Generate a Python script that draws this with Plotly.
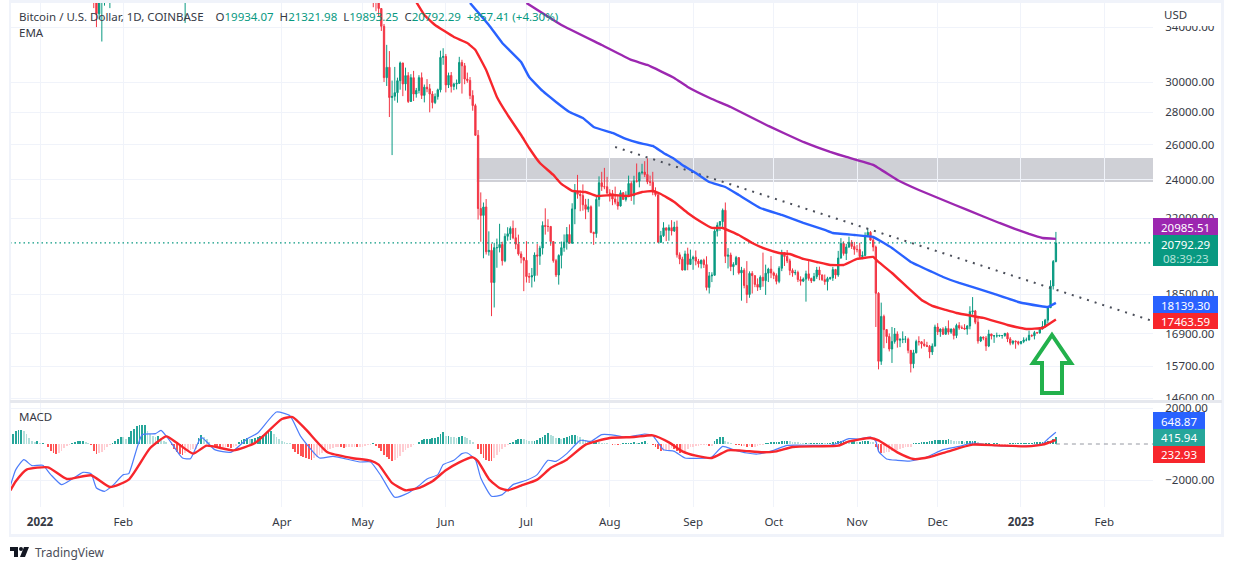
import pandas as pd
import plotly.graph_objects as go
from plotly.subplots import make_subplots

WIDTH = 1233
HEIGHT = 570

# Candles that dip into view before the big drop
early_dates = ["2022-01-21", "2022-01-22", "2022-01-23", "2022-01-24", "2022-01-25", "2022-01-26", "2022-01-27", "2022-02-24"]
early_open = [40700, 36450, 35050, 36270, 36650, 36970, 36820, 37250]
early_high = [41100, 36800, 36500, 37500, 37500, 38900, 37200, 39700]
early_low = [35500, 34000, 34600, 32900, 35700, 36200, 35500, 34320]
early_close = [36450, 35050, 36270, 36650, 36970, 36820, 37200, 38340]

# Daily candles from 2022-05-01, open is the previous close
first_open = 37630
close_may = [38470, 38530, 37750, 39695, 36550, 36010, 35470, 34060, 30300, 31020, 28960, 29040, 29280, 30090, 31330, 29870, 30440, 28700, 30300, 29190, 29430, 30300, 29100, 29650, 29540, 29190, 28630, 29020, 29470, 31730, 31800]
high_may = [38650, 39170, 38650, 40000, 39840, 36650, 36130, 35500, 34240, 32650, 32190, 30100, 31050, 30300, 31430, 31340, 31000, 30680, 30540, 30770, 29600, 30470, 30660, 29830, 30200, 29860, 29380, 29230, 29550, 32220, 32400]
low_may = [37390, 38050, 37520, 37680, 35570, 35250, 34790, 33700, 30000, 29730, 27700, 25400, 28750, 28620, 29480, 29050, 29420, 28600, 28680, 28730, 28950, 29230, 28860, 28640, 29310, 28000, 28250, 28530, 28820, 29300, 31200]
close_jun = [29800, 30450, 29700, 29860, 29910, 31370, 31130, 30200, 30110, 29090, 28430, 26570, 22490, 22140, 22570, 20380, 20445, 19000, 20570, 20570, 20720, 19965, 21110, 21230, 21490, 21040, 20735, 20280, 20105, 19985]
high_jun = [31980, 30650, 30690, 29950, 30170, 31770, 31560, 31330, 30650, 30340, 29440, 28550, 26890, 23330, 22800, 22980, 21350, 20760, 20800, 21000, 21720, 20850, 21250, 21550, 21590, 21880, 21520, 21190, 20400, 20130]
low_jun = [29300, 29590, 29290, 29450, 29500, 29880, 29220, 29850, 29950, 28850, 28100, 26560, 21930, 20850, 20080, 20250, 20200, 17600, 17950, 19650, 20350, 19750, 19900, 20900, 20930, 20970, 20500, 20200, 19850, 18630]
close_jul = [19260, 19240, 19300, 20230, 20180, 20550, 21640, 21590, 21590, 20860, 19970, 19330, 20210, 20570, 20830, 21195, 20780, 22470, 23390, 23230, 23160, 22680, 22450, 22580, 21300, 21240, 22960, 23850, 23640, 23630, 23300]
high_jul = [20880, 19420, 19640, 20350, 20740, 20660, 21840, 22500, 21950, 21600, 20860, 20050, 20260, 20860, 21200, 21560, 21690, 22760, 23780, 24280, 23440, 23760, 22990, 22990, 22650, 21330, 23110, 24200, 24450, 24670, 24170]
low_jul = [19000, 18980, 18790, 19040, 19300, 19780, 20250, 21190, 21330, 20660, 19880, 19240, 18910, 19620, 20380, 20480, 20760, 20760, 21700, 23000, 22350, 22380, 21950, 22300, 21260, 20700, 21040, 22590, 23410, 23500, 23230]
close_aug = [23270, 22980, 22820, 22620, 23310, 22960, 23175, 23810, 23150, 23950, 23930, 24400, 24440, 24300, 23900, 23880, 23340, 23210, 20830, 21140, 21520, 21400, 21530, 21370, 21560, 20240, 20040, 19550, 20280, 19800, 20050]
high_aug = [23500, 23460, 23640, 23220, 23450, 23350, 23390, 24240, 23930, 24230, 24920, 24450, 24900, 25050, 25210, 24240, 24450, 23600, 23210, 21370, 21800, 21520, 21680, 21900, 21820, 21880, 20350, 20150, 20430, 20570, 20480]
low_aug = [22850, 22660, 22700, 22430, 22590, 22930, 22850, 23150, 22880, 22690, 23860, 23600, 24300, 24160, 23770, 23680, 23180, 23110, 20790, 20790, 21080, 20880, 20900, 21150, 21320, 20110, 19810, 19530, 19540, 19540, 19800]
close_sep = [20130, 19950, 19830, 19990, 19790, 18790, 19290, 19320, 21360, 21650, 21830, 22400, 20170, 20230, 19700, 19800, 20110, 19420, 19540, 18875, 18490, 19400, 19300, 18920, 18800, 19230, 19080, 19410, 19590, 19420]
high_sep = [20200, 20440, 20050, 20020, 20060, 20170, 19460, 19450, 21450, 21790, 21850, 22490, 22800, 20550, 20340, 19900, 20190, 20110, 19690, 19630, 19950, 19490, 19500, 19310, 19180, 19310, 20340, 19790, 19650, 20180]
low_sep = [19560, 19760, 19660, 19620, 19640, 18660, 18530, 19020, 19300, 21100, 21370, 21560, 19860, 19620, 19500, 19320, 19760, 19350, 18230, 18750, 18130, 18350, 18530, 18800, 18640, 18680, 18820, 18470, 19020, 19190]
close_oct = [19310, 19050, 19630, 20340, 20160, 19960, 19530, 19420, 19440, 19130, 19060, 19150, 19380, 19180, 19070, 19260, 19550, 19330, 19125, 19040, 19170, 19205, 19570, 19330, 20090, 20770, 20300, 20600, 20820, 20630, 20490]
high_oct = [19480, 19400, 19720, 20470, 20370, 20460, 20060, 19620, 19560, 19520, 19270, 19220, 19520, 19950, 19210, 19420, 19690, 19700, 19350, 19350, 19250, 19250, 19690, 19600, 20420, 21020, 20870, 20750, 21090, 20930, 20840]
low_oct = [19150, 18920, 18970, 19500, 19730, 19860, 19320, 19250, 19320, 19020, 18870, 19020, 18190, 19080, 18980, 19060, 19160, 19100, 19070, 18900, 18660, 19120, 19070, 19160, 19250, 20060, 20200, 20000, 20560, 20510, 20240]
close_nov = [20480, 20160, 20210, 21150, 21300, 20925, 20600, 18540, 15880, 17590, 17070, 16800, 16330, 16610, 16900, 16660, 16690, 16700, 16700, 16280, 15790, 16190, 16610, 16600, 16520, 16460, 16430, 16220, 16440, 17170]
high_nov = [20700, 20800, 20400, 21300, 21480, 21360, 21060, 20670, 18590, 18150, 17660, 17070, 16920, 17170, 17130, 17000, 16740, 17000, 16820, 16760, 16290, 16300, 16680, 16810, 16620, 16700, 16600, 16480, 16540, 17260]
low_nov = [20350, 20050, 20040, 20170, 21080, 20890, 20400, 17170, 15590, 15750, 16360, 16550, 16240, 15820, 16530, 16380, 16400, 16550, 16560, 16170, 15480, 15630, 16170, 16460, 16350, 16410, 16400, 15990, 16110, 16420]
close_dec = [16980, 17090, 16890, 17110, 16970, 17090, 16840, 17230, 17130, 17130, 17090, 17210, 17780, 17810, 17360, 16630, 16780, 16740, 16440, 16900, 16820, 16830, 16830, 16840, 16840, 16920, 16710, 16550, 16630, 16600, 16540]
high_dec = [17320, 17110, 17160, 17200, 17430, 17110, 17140, 17300, 17360, 17230, 17280, 17240, 18000, 18380, 17850, 17530, 16800, 16800, 16820, 17060, 16900, 16860, 16950, 16870, 16860, 16940, 16960, 16780, 16650, 16650, 16640]
low_dec = [16860, 16790, 16860, 16880, 16870, 16900, 16690, 16740, 17060, 17090, 17070, 16870, 17080, 17660, 17280, 16530, 16590, 16660, 16260, 16400, 16690, 16560, 16760, 16790, 16720, 16790, 16590, 16470, 16490, 16340, 16470]
close_jan = [16610, 16670, 16670, 16850, 16830, 16950, 16940, 17090, 17190, 17440, 17940, 18850, 19934.07, 20792.29]
high_jan = [16630, 16770, 16760, 17030, 16880, 17020, 16980, 17170, 17400, 17490, 18000, 19100, 20000, 21321.98]
low_jan = [16500, 16550, 16620, 16650, 16780, 16690, 16910, 16910, 17080, 17150, 17310, 18000, 18700, 19893.25]

# EMA 50 (red)
ema50_dates = ["2022-05-21", "2022-05-24", "2022-05-28", "2022-06-04", "2022-06-09", "2022-06-12", "2022-06-16", "2022-06-20", "2022-06-24", "2022-06-29", "2022-07-02", "2022-07-06", "2022-07-11", "2022-07-14", "2022-07-18", "2022-07-23", "2022-07-27", "2022-08-02", "2022-08-08", "2022-08-13", "2022-08-17", "2022-08-20", "2022-08-25", "2022-08-30", "2022-09-04", "2022-09-08", "2022-09-12", "2022-09-18", "2022-09-23", "2022-09-28", "2022-10-03", "2022-10-07", "2022-10-12", "2022-10-17", "2022-10-22", "2022-10-27", "2022-11-01", "2022-11-07", "2022-11-09", "2022-11-14", "2022-11-20", "2022-11-25", "2022-11-29", "2022-12-04", "2022-12-08", "2022-12-14", "2022-12-18", "2022-12-27", "2023-01-03", "2023-01-09", "2023-01-12", "2023-01-14"]
ema50_values = [35998, 34951, 34161, 33241, 32791, 32271, 30834, 28997, 27830, 26590, 25815, 24950, 24276, 23783, 23405, 23353, 23142, 23194, 23142, 23353, 23405, 23246, 22826, 22262, 21808, 21515, 21515, 21173, 20790, 20509, 20322, 20276, 20048, 19911, 19775, 19775, 20048, 20139, 19911, 19418, 18766, 18260, 18012, 17849, 17727, 17606, 17527, 17249, 17093, 17131, 17328, 17463.59]

# EMA 100 (blue)
ema100_dates = ["2022-06-10", "2022-06-17", "2022-06-22", "2022-06-29", "2022-07-02", "2022-07-07", "2022-07-12", "2022-07-17", "2022-07-22", "2022-07-26", "2022-08-02", "2022-08-07", "2022-08-12", "2022-08-17", "2022-08-21", "2022-08-25", "2022-08-28", "2022-09-02", "2022-09-07", "2022-09-13", "2022-09-18", "2022-09-26", "2022-10-04", "2022-10-12", "2022-10-20", "2022-10-23", "2022-10-31", "2022-11-07", "2022-11-14", "2022-11-21", "2022-11-29", "2022-12-03", "2022-12-09", "2022-12-15", "2022-12-22", "2022-12-31", "2023-01-08", "2023-01-11", "2023-01-14"]
ema100_values = [35918, 34161, 32791, 31401, 30346, 29393, 28668, 28020, 27640, 27080, 26712, 26350, 26110, 25932, 25522, 25177, 24835, 24385, 23891, 23620, 23194, 22516, 22162, 21760, 21418, 21270, 21173, 21076, 20556, 19911, 19462, 19241, 18982, 18766, 18511, 18177, 18012, 17971, 18139.30]

# EMA 200 (purple)
ema200_dates = ["2022-07-01", "2022-07-14", "2022-07-29", "2022-08-09", "2022-08-15", "2022-08-25", "2022-08-30", "2022-09-08", "2022-09-15", "2022-09-29", "2022-10-12", "2022-10-22", "2022-10-28", "2022-11-07", "2022-11-16", "2022-11-24", "2022-12-03", "2022-12-12", "2022-12-24", "2023-01-04", "2023-01-09", "2023-01-14"]
ema200_values = [35918, 34161, 32640, 31544, 31188, 30276, 29662, 28863, 28342, 27142, 26170, 25581, 25291, 24835, 24000, 23459, 22930, 22415, 21760, 21222, 21028, 20985.51]

# MACD line
macd_dates = ["2021-12-21", "2021-12-23", "2021-12-26", "2021-12-29", "2022-01-02", "2022-01-05", "2022-01-09", "2022-01-13", "2022-01-17", "2022-01-20", "2022-01-22", "2022-01-25", "2022-01-28", "2022-02-01", "2022-02-03", "2022-02-08", "2022-02-13", "2022-02-15", "2022-02-18", "2022-02-23", "2022-02-26", "2022-03-02", "2022-03-07", "2022-03-13", "2022-03-19", "2022-03-23", "2022-03-30", "2022-04-04", "2022-04-08", "2022-04-15", "2022-04-20", "2022-04-30", "2022-05-04", "2022-05-08", "2022-05-13", "2022-05-18", "2022-05-22", "2022-05-25", "2022-05-29", "2022-05-31", "2022-06-04", "2022-06-07", "2022-06-09", "2022-06-12", "2022-06-14", "2022-06-18", "2022-06-22", "2022-06-26", "2022-07-01", "2022-07-05", "2022-07-09", "2022-07-12", "2022-07-16", "2022-07-21", "2022-07-25", "2022-07-29", "2022-08-03", "2022-08-07", "2022-08-14", "2022-08-17", "2022-08-21", "2022-08-25", "2022-08-29", "2022-09-06", "2022-09-08", "2022-09-12", "2022-09-16", "2022-09-21", "2022-09-25", "2022-10-01", "2022-10-06", "2022-10-15", "2022-10-22", "2022-10-25", "2022-10-29", "2022-11-02", "2022-11-06", "2022-11-08", "2022-11-09", "2022-11-12", "2022-11-16", "2022-11-21", "2022-11-27", "2022-12-03", "2022-12-09", "2022-12-14", "2022-12-19", "2022-12-31", "2023-01-09", "2023-01-11", "2023-01-14"]
macd_values = [-2312, -1424, -870, -1202, -1184, -1702, -2257, -1942, -1572, -1646, -2442, -2627, -2312, -1702, -1646, 518, 574, 758, 240, -777, -814, 370, -314, -462, 278, 610, 1776, 1572, 425, -777, -684, -999, -999, -1794, -2960, -2720, -2312, -1942, -1702, -1147, -906, -536, -500, -870, -1887, -2905, -2812, -2257, -2017, -1702, -906, -962, -536, 204, 148, 518, 481, 370, 555, 462, -314, -407, -777, -777, -722, -130, -314, -500, -555, -352, -74, -74, -74, 55, 296, 278, 388, 148, -407, -832, -906, -944, -722, -314, -130, 55, -55, -130, 0, 278, 648.87]

# Signal line
signal_dates = ["2021-12-21", "2021-12-23", "2021-12-27", "2022-01-04", "2022-01-11", "2022-01-20", "2022-01-27", "2022-02-03", "2022-02-11", "2022-02-17", "2022-02-21", "2022-02-27", "2022-03-04", "2022-03-14", "2022-03-22", "2022-04-01", "2022-04-05", "2022-04-10", "2022-04-18", "2022-04-27", "2022-05-04", "2022-05-07", "2022-05-12", "2022-05-17", "2022-05-22", "2022-05-27", "2022-06-01", "2022-06-06", "2022-06-11", "2022-06-13", "2022-06-17", "2022-06-21", "2022-06-24", "2022-06-29", "2022-07-05", "2022-07-10", "2022-07-16", "2022-07-23", "2022-08-01", "2022-08-10", "2022-08-17", "2022-08-23", "2022-08-28", "2022-09-02", "2022-09-08", "2022-09-14", "2022-09-19", "2022-09-27", "2022-10-02", "2022-10-08", "2022-10-18", "2022-10-25", "2022-10-29", "2022-11-06", "2022-11-09", "2022-11-16", "2022-11-22", "2022-11-28", "2022-12-05", "2022-12-14", "2022-12-23", "2023-01-03", "2023-01-09", "2023-01-14"]
signal_values = [-2572, -2072, -1424, -1295, -1942, -1739, -2386, -1980, -222, 425, 55, -536, -92, -352, 55, 1388, 1498, 796, -462, -777, -925, -1147, -2164, -2572, -2442, -2072, -1462, -1017, -740, -962, -1942, -2442, -2572, -2312, -1980, -1332, -870, -37, 333, 388, 481, 92, -407, -648, -777, -352, -370, -462, -407, -166, -130, -92, 148, 333, 204, -462, -832, -722, -407, -37, -74, -130, -37, 232.93]

# MACD histogram, one bar per day from 2021-12-21
hist_dec21 = [462, 555, 740, 777, 777, 703, 555, 333, 148, 111, 148]
hist_jan22 = [55, 55, 0, -185, -407, -518, -555, -518, -407, -222, -92, -55, 37, 111, 185, 185, 185, 92, 37, -55, -407, -555, -518, -462, -333, -148, -55, 55, 185, 278, 407]
hist_feb22 = [370, 278, 407, 703, 832, 1018, 1073, 1073, 1073, 740, 555, 462, 370, 462, 333, 185, 92, 0, -55, -278, -462, -555, -592, -518, -407, -333, -278, -278]
hist_mar22 = [333, 518, 407, 278, 92, 0, -92, -185, -222, -148, -148, -185, -222, -185, -111, 92, 222, 278, 333, 278, 278, 333, 407, 462, 518, 555, 648, 703, 555, 407, 278]
hist_apr22 = [185, 111, 55, 37, -278, -462, -555, -648, -740, -777, -851, -888, -777, -703, -592, -518, -407, -333, -259, -222, -185, -148, -185, -222, -185, -185, -148, -148, -185, -148]
hist_may22 = [-148, -92, -55, -37, 37, -92, -222, -407, -592, -740, -832, -925, -888, -777, -648, -462, -333, -222, -148, -55, 0, 92, 222, 278, 278, 278, 333, 333, 407, 555, 648]
hist_jun22 = [462, 462, 407, 370, 333, 407, 462, 407, 333, 222, 92, 0, -278, -555, -777, -888, -925, -962, -777, -592, -444, -278, -148, -55, 18, 92, 222, 278, 278, 259]
hist_jul22 = [222, 185, 148, 148, 222, 333, 407, 518, 592, 518, 462, 333, 333, 278, 333, 407, 462, 518, 518, 462, 407, 278, 222, 148, 92, 92, 148, 92, 55, 37, 18]
hist_aug22 = [0, -37, -37, -55, -37, 37, 55, 55, 55, 92, 55, 55, 92, 148, 55, 0, -55, -148, -278, -407, -407, -333, -333, -222, -278, -407, -518, -462, -407, -278, -185]
hist_sep22 = [-148, -92, -92, -55, -55, -55, -92, -92, 148, 278, 370, 407, 185, 92, 55, 0, -37, -55, -92, -92, -148, -92, -148, -148, -92, -55, -37, 37, 55, 92]
hist_oct22 = [92, 92, 111, 148, 148, 185, 148, 111, 92, 74, 55, 37, 37, 18, 18, 37, 37, 37, 37, 18, 37, 55, 74, 111, 148, 185, 185, 166, 148, 148, 148]
hist_nov22 = [130, 130, 148, 148, 148, 111, 92, -148, -407, -518, -518, -462, -462, -407, -370, -333, -278, -222, -185, -148, -148, 18, 18, 37, 74, 92, 111, 148, 185, 222]
hist_dec22 = [222, 222, 222, 240, 259, 222, 185, 166, 148, 148, 130, 148, 166, 185, 185, 92, 37, 18, 18, 18, 0, 18, 18, -18, -18, -18, -18, 18, 37, 37, 37]
hist_jan23 = [37, 37, 55, 55, 55, 74, 92, 111, 111, 130, 148, 185, 259, 415.94]

# Overlays
zone_start, zone_end = "2022-06-12 12:00", "2023-02-19 03:00"
zone_low, zone_high = 23890, 25233
trend_dates = ["2022-08-03", "2023-02-19 03:00"]
trend_values = [25873, 17400]
last_price = 20792.29
x_range = ["2021-12-20 20:00", "2023-02-19 03:00"]

# Axis labels
month_ticks = ["2022-01-01", "2022-02-01", "2022-04-01", "2022-05-01", "2022-06-01", "2022-07-01", "2022-08-01", "2022-09-01", "2022-10-01", "2022-11-01", "2022-12-01", "2023-01-01", "2023-02-01"]
month_labels = ["<b>2022</b>", "Feb", "Apr", "May", "Jun", "Jul", "Aug", "Sep", "Oct", "Nov", "Dec", "<b>2023</b>", "Feb"]
price_ticks = [34000, 30000, 28000, 26000, 24000, 22000, 18500, 16900, 15700, 14600]
price_labels = ["34000.00", "30000.00", "28000.00", "26000.00", "24000.00", "22000.00", "18500.00", "16900.00", "15700.00", "14600.00"]
macd_ticks = [2000, -2000]
macd_labels = ["2000.00", "\u22122000.00"]

FONT = "Noto Sans"
TEXT_SIZE = 11.5
TEXT = "#363a45"
GRID = "#f0f3fa"
GREEN = "#089981"
RED = "#f23645"
EMA_RED = "#f7262c"
BLUE = "#2962ff"
PURPLE = "#9c27b0"


def px_x(x):
    return x / WIDTH


def px_y(y):
    return 1 - y / HEIGHT


closes = close_may + close_jun + close_jul + close_aug + close_sep + close_oct + close_nov + close_dec + close_jan
highs = high_may + high_jun + high_jul + high_aug + high_sep + high_oct + high_nov + high_dec + high_jan
lows = low_may + low_jun + low_jul + low_aug + low_sep + low_oct + low_nov + low_dec + low_jan
opens = [first_open] + closes[:-1]
candle_dates = pd.date_range("2022-05-01", periods=len(closes), freq="D")

hist = hist_dec21 + hist_jan22 + hist_feb22 + hist_mar22 + hist_apr22 + hist_may22 + hist_jun22 + hist_jul22 + hist_aug22 + hist_sep22 + hist_oct22 + hist_nov22 + hist_dec22 + hist_jan23
hist_dates = pd.date_range("2021-12-21", periods=len(hist), freq="D")
hist_colors = []
for i, v in enumerate(hist):
    rising = i == 0 or v >= hist[i - 1]
    if v >= 0:
        hist_colors.append("#26a69a" if rising else "#b2dfdb")
    else:
        hist_colors.append("#ffcdd2" if rising else "#ff5252")

fig = make_subplots(rows=2, cols=1, shared_xaxes=True)

fig.add_trace(
    go.Candlestick(
        x=list(pd.to_datetime(early_dates)) + list(candle_dates),
        open=early_open + opens,
        high=early_high + highs,
        low=early_low + lows,
        close=early_close + closes,
        increasing=dict(line=dict(color=GREEN, width=1), fillcolor=GREEN),
        decreasing=dict(line=dict(color=RED, width=1), fillcolor=RED),
        whiskerwidth=0,
    ),
    row=1,
    col=1,
)

# Last price and trend line
fig.add_trace(
    go.Scatter(x=x_range, y=[last_price, last_price], mode="lines", line=dict(color=GREEN, width=1.2, dash="1.5px,3px")),
    row=1,
    col=1,
)
fig.add_trace(
    go.Scatter(x=trend_dates, y=trend_values, mode="lines", line=dict(color="#4a4e59", width=2, dash="2px,6px")),
    row=1,
    col=1,
)

for dates, values, color in [
    (ema200_dates, ema200_values, PURPLE),
    (ema100_dates, ema100_values, BLUE),
    (ema50_dates, ema50_values, EMA_RED),
]:
    fig.add_trace(
        go.Scatter(x=dates, y=values, mode="lines", line=dict(color=color, width=2.4, shape="spline", smoothing=0.25)),
        row=1,
        col=1,
    )

fig.add_trace(
    go.Bar(x=hist_dates, y=hist, marker=dict(color=hist_colors, line=dict(width=0)), width=26000000),
    row=2,
    col=1,
)
fig.add_trace(
    go.Scatter(x=macd_dates, y=macd_values, mode="lines", line=dict(color="#4d7dfa", width=1.2, shape="spline", smoothing=0.5)),
    row=2,
    col=1,
)
fig.add_trace(
    go.Scatter(x=signal_dates, y=signal_values, mode="lines", line=dict(color=EMA_RED, width=2.4, shape="spline", smoothing=0.5)),
    row=2,
    col=1,
)
fig.add_trace(
    go.Scatter(x=["2023-01-14", x_range[1]], y=[0, 0], mode="lines", line=dict(color="#9598a1", width=1, dash="4px,4px")),
    row=2,
    col=1,
)

fig.update_layout(
    width=WIDTH,
    height=HEIGHT,
    margin=dict(l=0, r=0, t=0, b=0),
    paper_bgcolor="white",
    plot_bgcolor="white",
    showlegend=False,
    hovermode=False,
    bargap=0,
    font=dict(family=FONT, size=TEXT_SIZE, color=TEXT),
)
# automargin off, labels near the pane edges would otherwise squeeze the plot area
fig.update_xaxes(
    automargin=False,
    range=x_range,
    domain=[px_x(10), px_x(1153)],
    tickmode="array",
    tickvals=month_ticks,
    ticktext=month_labels,
    showgrid=True,
    gridcolor=GRID,
    gridwidth=1,
    zeroline=False,
    showline=False,
    rangeslider_visible=False,
)
fig.update_xaxes(showticklabels=False, ticks="", row=1, col=1)
fig.update_xaxes(showticklabels=True, ticks="outside", ticklen=4, tickcolor="rgba(0,0,0,0)", tickfont=dict(size=TEXT_SIZE, color=TEXT), row=2, col=1)
fig.update_yaxes(
    automargin=False,
    type="log",
    range=[4.16155, 4.55529],
    autorange=False,
    domain=[px_y(401), px_y(3)],
    side="right",
    tickmode="array",
    tickvals=price_ticks,
    ticktext=price_labels,
    ticks="outside",
    ticklen=9,
    tickcolor="rgba(0,0,0,0)",
    showgrid=True,
    gridcolor=GRID,
    zeroline=False,
    row=1,
    col=1,
)
fig.update_yaxes(
    automargin=False,
    range=[-3500, 2278],
    autorange=False,
    domain=[px_y(507), px_y(403)],
    side="right",
    tickmode="array",
    tickvals=macd_ticks,
    ticktext=macd_labels,
    ticks="outside",
    ticklen=9,
    tickcolor="rgba(0,0,0,0)",
    showgrid=True,
    gridcolor=GRID,
    zeroline=False,
    row=2,
    col=1,
)

# Supply zone
fig.add_shape(
    type="rect",
    x0=zone_start,
    x1=zone_end,
    y0=zone_low,
    y1=zone_high,
    xref="x",
    yref="y",
    layer="below",
    fillcolor="#cfd0d6",
    line=dict(width=0),
)


def paper_rect(x0, y0, x1, y1, color):
    fig.add_shape(
        type="rect",
        xref="paper",
        yref="paper",
        x0=px_x(x0),
        x1=px_x(x1),
        y0=px_y(y0),
        y1=px_y(y1),
        fillcolor=color,
        line=dict(width=0),
        layer="above",
    )


def label(x, y, text, color=TEXT, size=TEXT_SIZE, anchor="left"):
    fig.add_annotation(
        xref="paper",
        yref="paper",
        x=px_x(x),
        y=px_y(y),
        text=text,
        showarrow=False,
        xanchor=anchor,
        yanchor="middle",
        font=dict(family=FONT, size=size, color=color),
        borderpad=0,
    )


# Frame around the chart, the tops of clipped axis labels and the pane divider
paper_rect(9, 0, 1224, 3, GRID)
paper_rect(9, 0, 11, 537, GRID)
paper_rect(1221, 0, 1224, 537, GRID)
paper_rect(9, 534, 1224, 537, GRID)
paper_rect(1155, 8, 1220, 26, "white")
paper_rect(10, 400, 1222, 403, "#e6e8ee")

# Price badges
paper_rect(1153, 218, 1218, 235, PURPLE)
paper_rect(1153, 235, 1218, 266, GREEN)
paper_rect(1153, 296, 1218, 313, BLUE)
paper_rect(1153, 313, 1218, 329, "#f7262c")
paper_rect(1153, 412, 1205, 429, BLUE)
paper_rect(1153, 429, 1205, 446, "#26a69a")
paper_rect(1153, 446, 1205, 463, "#f7262c")
label(1185.5, 227, "20985.51", "white", anchor="center")
label(1185.5, 244, "20792.29", "white", anchor="center")
label(1185.5, 258, "08:39:23", "#b5e3da", anchor="center")
label(1185.5, 305, "18139.30", "white", anchor="center")
label(1185.5, 321, "17463.59", "white", anchor="center")
label(1179, 421, "648.87", "white", anchor="center")
label(1179, 438, "415.94", "white", anchor="center")
label(1179, 454, "232.93", "white", anchor="center")

# Arrow drawn on the chart
arrow_px = [(1052, 335), (1071, 363), (1062, 363), (1062, 393), (1042, 393), (1042, 363), (1033, 363)]
arrow_path = "M " + " L ".join(f"{px_x(x):.5f},{px_y(y):.5f}" for x, y in arrow_px) + " Z"
fig.add_shape(type="path", path=arrow_path, xref="paper", yref="paper", line=dict(color="#22b14c", width=4), layer="above")

# TradingView mark
logo_paths = [
    [(10, 547), (18, 547), (18, 557), (14, 557), (14, 551), (10, 551)],
    [(24, 547), (29, 547), (25, 557), (20, 557)],
]
for shape in logo_paths:
    path = "M " + " L ".join(f"{px_x(x):.5f},{px_y(y):.5f}" for x, y in shape) + " Z"
    fig.add_shape(type="path", path=path, xref="paper", yref="paper", fillcolor="#131722", line=dict(width=0), layer="above")
fig.add_shape(
    type="circle",
    xref="paper",
    yref="paper",
    x0=px_x(19),
    x1=px_x(23),
    y0=px_y(551),
    y1=px_y(547),
    fillcolor="#131722",
    line=dict(width=0),
    layer="above",
)

num = GREEN
title = (
    "Bitcoin / U.S. Dollar, 1D, COINBASE    O"
    f'<span style="color:{num}">19934.07</span>  H<span style="color:{num}">21321.98</span>  '
    f'L<span style="color:{num}">19893.25</span>  C<span style="color:{num}">20792.29</span>  '
    f'<span style="color:{num}">+857.41 (+4.30%)</span>'
)
label(18, 17, title)
label(18, 33, "EMA")
label(18, 416, "MACD")
label(1163, 15, "USD")
label(34, 552, "TradingView", "#4a4e59", size=12)

# The page's default body margin would push the chart off its pixel positions
fig.write_html("out.html", config={"displayModeBar": False}, post_script="document.body.style.margin = '0';")
